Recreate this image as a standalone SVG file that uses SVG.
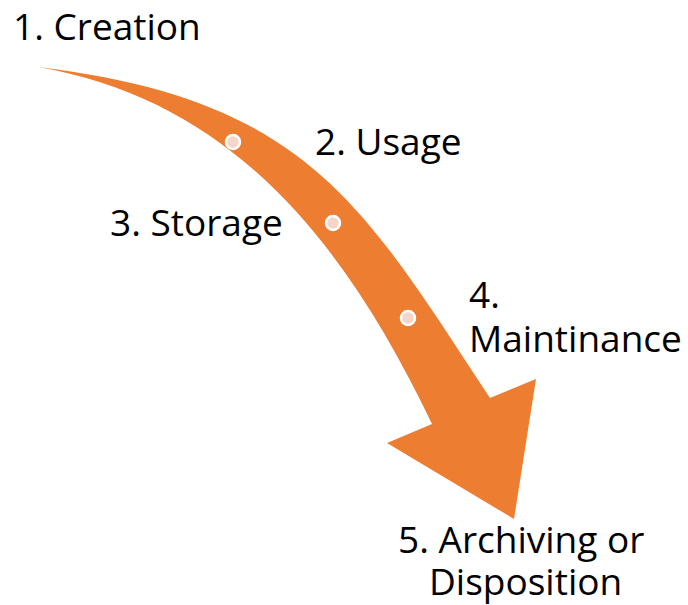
<svg xmlns="http://www.w3.org/2000/svg" width="688" height="605" viewBox="0 0 688 605">
  <style>
    .label { font-family: "Open Sans", "Liberation Sans", sans-serif; font-size: 37px; fill: #000; }
    .flow { fill: #ED7D31; }
    .dot { fill: #F5D5CA; stroke: #FFFFFF; stroke-width: 2.5; }
  </style>
  <rect width="688" height="605" fill="#FFFFFF"/>

  <!-- curved lifecycle arrow -->
  <g id="connectors">
    <path class="flow" d="M38,67 C308,99.4 363.5,206 490,398 L536,379 L514,519 L387,443 L432,424 C341.7,235 228,100 38,67 Z"/>
  </g>

  <g id="dots">
    <circle class="dot" cx="233" cy="142" r="7"/>
    <circle class="dot" cx="333" cy="223" r="7"/>
    <circle class="dot" cx="408" cy="318" r="7"/>
  </g>

  <g id="stage1"><text class="label" x="13" y="40">1. Creation</text></g>
  <g id="stage2"><text class="label" x="315" y="155">2. Usage</text></g>
  <g id="stage3"><text class="label" x="110" y="236">3. Storage</text></g>
  <g id="stage4">
    <text class="label" x="469" y="308">4.</text>
    <text class="label" x="469" y="352">Maintinance</text>
  </g>
  <g id="stage5">
    <text class="label" x="398" y="553">5. Archiving or</text>
    <text class="label" x="429" y="595">Disposition</text>
  </g>
</svg>
